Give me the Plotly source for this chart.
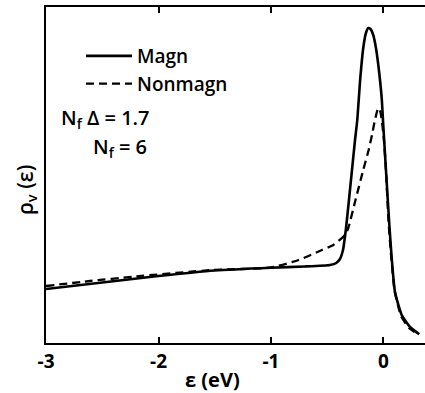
import plotly.graph_objects as go

# Valence-band spectral density rho_v(eps), arbitrary units
eps_magn = [-3.00, -2.50, -2.00, -1.50, -1.00, -0.70, -0.475, -0.42, -0.387, -0.36,
            -0.333, -0.307, -0.28, -0.253, -0.233, -0.209, -0.18, -0.156, -0.135,
            -0.116, -0.091, -0.067, -0.046, -0.016, -0.002, 0.022, 0.052, 0.073,
            0.102, 0.162, 0.236, 0.318]
rho_magn = [0.54, 0.605, 0.67, 0.725, 0.753, 0.765, 0.78, 0.80, 0.84, 0.93,
            1.15, 1.43, 1.73, 2.03, 2.23, 2.61, 2.95, 3.10, 3.15,
            3.14, 3.08, 2.95, 2.78, 2.45, 2.18, 1.73, 1.18, 0.85,
            0.51, 0.28, 0.16, 0.087]

eps_nonmagn = [-3.00, -2.61, -2.23, -1.52, -1.00, -0.754, -0.547, -0.446, -0.342,
               -0.313, -0.249, -0.18, -0.132, -0.102, -0.076, -0.053, -0.04, -0.027,
               -0.013, 0.004, 0.022, 0.044, 0.067, 0.098, 0.156, 0.227, 0.316]
rho_nonmagn = [0.57, 0.62, 0.663, 0.73, 0.755, 0.83, 0.93, 0.98, 1.08,
               1.15, 1.43, 1.73, 1.93, 2.08, 2.23, 2.33, 2.35, 2.31,
               2.21, 2.03, 1.73, 1.23, 0.88, 0.53, 0.27, 0.15, 0.08]

x_ticks = [-3, -2, -1, 0]
x_tick_labels = ["-3", "-2", "-1", "0"]

FONT = "Open Sans"
TXT = dict(family=FONT, size=20, color="black", weight=600)

fig = go.Figure()
fig.add_trace(go.Scatter(
    x=eps_magn, y=rho_magn, mode="lines", name="Magn",
    line=dict(color="black", width=2.6, shape="spline", smoothing=0.5),
    legendgroup="a",
))
fig.add_trace(go.Scatter(
    x=eps_nonmagn, y=rho_nonmagn, mode="lines", name="Nonmagn",
    line=dict(color="black", width=2.3, dash="8px,5px", shape="spline", smoothing=0.5),
    legendgroup="b",
))

fig.add_annotation(
    text="N<sub>f</sub> Δ = 1.7", xref="paper", yref="paper",
    x=(59 - 46) / 379, y=(343 - 118) / 336, xanchor="left", yanchor="middle",
    showarrow=False, font=TXT,
)
fig.add_annotation(
    text="N<sub>f</sub> = 6", xref="paper", yref="paper",
    x=(91 - 46) / 379, y=(343 - 147) / 336, xanchor="left", yanchor="middle",
    showarrow=False, font=TXT,
)
fig.add_annotation(
    text="ε (eV)", xref="paper", yref="paper",
    x=(212 - 46) / 379, y=(343 - 379) / 336, xanchor="center", yanchor="middle",
    showarrow=False, font=dict(family=FONT, size=20, color="black", weight=700),
)
fig.add_annotation(
    text="ρ<sub>v</sub> (ε)", xref="paper", yref="paper", textangle=-90,
    x=(26 - 46) / 379, y=(343 - 190) / 336, xanchor="center", yanchor="middle",
    showarrow=False, font=dict(family=FONT, size=21, color="black", weight=600),
)

fig.update_layout(
    width=425, height=393,
    margin=dict(l=46, r=0, t=7, b=50),
    paper_bgcolor="white", plot_bgcolor="white",
    showlegend=True,
    legend=dict(
        x=(81 - 46) / 379, y=(343 - 37) / 336, xanchor="left", yanchor="top",
        bgcolor="rgba(0,0,0,0)", font=dict(family=FONT, size=19, color="black", weight=600),
        tracegroupgap=0, itemwidth=46,
    ),
    xaxis=dict(
        range=[-3, 0.369], tickvals=x_ticks, ticktext=x_tick_labels,
        ticks="inside", ticklen=6, tickwidth=1.5, tickcolor="black",
        showline=True, linecolor="black", linewidth=1.8, mirror="ticks",
        showgrid=False, zeroline=False,
        tickfont=dict(family=FONT, size=19, color="black", weight=700),
        ticklabelstandoff=0,
    ),
    yaxis=dict(
        range=[0, 3.36], showticklabels=False, ticks="",
        showline=True, linecolor="black", linewidth=1.8,
        showgrid=False, zeroline=False,
    ),
)

fig.write_html("out.html")
